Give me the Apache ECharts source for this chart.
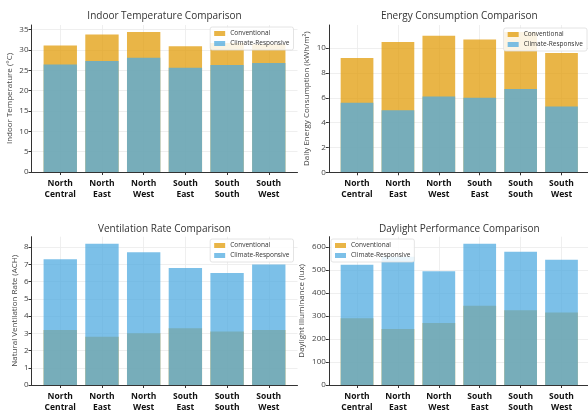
<!DOCTYPE html>
<html>
<head>
<meta charset="utf-8">
<script src="https://cdn.jsdelivr.net/npm/echarts@6/dist/echarts.min.js"></script>
<style>
  html, body { margin: 0; padding: 0; background: #fff; }
  #chart { width: 588px; height: 411px; }
</style>
</head>
<body>
<div id="chart"></div>
<script>
// Regions compared in every panel
const categories = ['North\nCentral', 'North\nEast', 'North\nWest', 'South\nEast', 'South\nSouth', 'South\nWest'];
const seriesNames = ['Conventional', 'Climate-Responsive'];

// Indoor temperature (°C)
const tempConventional = [31.1, 33.8, 34.4, 30.9, 31.7, 31.4];
const tempClimate = [26.4, 27.3, 28.1, 25.6, 26.3, 26.8];
const tempTicks = [0, 5, 10, 15, 20, 25, 30, 35];

// Daily energy consumption (kWh/m²)
const energyConventional = [9.2, 10.5, 11.0, 10.7, 11.3, 9.6];
const energyClimate = [5.6, 5.0, 6.1, 6.0, 6.7, 5.3];
const energyTicks = [0, 2, 4, 6, 8, 10];

// Natural ventilation rate (ACH)
const ventConventional = [3.2, 2.8, 3.0, 3.3, 3.1, 3.2];
const ventClimate = [7.3, 8.2, 7.7, 6.8, 6.5, 7.0];
const ventTicks = [0, 1, 2, 3, 4, 5, 6, 7, 8];

// Daylight illuminance (lux)
const dayConventional = [290, 243, 270, 345, 325, 315];
const dayClimate = [523, 557, 494, 614, 579, 545];
const dayTicks = [0, 100, 200, 300, 400, 500, 600];

const COLOR_CONV = 'rgba(225,156,9,0.75)';
const COLOR_CLIM = 'rgba(80,171,224,0.75)';
const FONT = '"Open Sans", "Liberation Sans", sans-serif';
const GRID_COLOR = '#ebebeb';

// Panel layout: frame = axes box, step = px between category centres
const panels = [
  { title: 'Indoor Temperature Comparison', yName: 'Indoor Temperature (°C)',
    conv: tempConventional, clim: tempClimate, ticks: tempTicks,
    left: 31.5, width: 266, top: 25, bottom: 172, step: 41.7, nameGap: 18,
    titleY: 16, legend: { right: 294.5, top: 27 } },
  { title: 'Energy Consumption Comparison', yName: 'Daily Energy Consumption (kWh/m²)',
    conv: energyConventional, clim: energyClimate, ticks: energyTicks,
    left: 328.8, width: 261, top: 25, bottom: 172.3, step: 40.9, nameGap: 18,
    titleY: 16, legend: { right: 1, top: 28 } },
  { title: 'Ventilation Rate Comparison', yName: 'Natural Ventilation Rate (ACH)',
    conv: ventConventional, clim: ventClimate, ticks: ventTicks,
    left: 31.5, width: 266, top: 236.7, bottom: 385, step: 41.7, nameGap: 13,
    titleY: 229, legend: { right: 294.5, top: 239 } },
  { title: 'Daylight Performance Comparison', yName: 'Daylight Illuminance (lux)',
    conv: dayConventional, clim: dayClimate, ticks: dayTicks,
    left: 328.8, width: 261, top: 236.7, bottom: 385, step: 40.9, nameGap: 23,
    titleY: 229, legend: { left: 331, top: 239 } }
];

const W = 588, H = 411;
const grid = [], xAxis = [], yAxis = [], series = [], legend = [], graphic = [];

panels.forEach((p, i) => {
  const ymax = Math.max(...p.conv, ...p.clim) * 1.05;
  const frameIdx = i * 2, barIdx = i * 2 + 1;
  // frame grid: spines, y labels and horizontal grid lines
  grid.push({ left: p.left, right: W - (p.left + p.width), top: p.top, bottom: H - p.bottom, outerBoundsMode: 'none' });
  // bar grid: category centres from first to last region
  const barLeft = p.left + 0.69 * p.step;
  grid.push({ left: barLeft, right: W - (barLeft + 5 * p.step), top: p.top, bottom: H - p.bottom, outerBoundsMode: 'none' });

  xAxis.push({
    gridIndex: frameIdx, type: 'value', min: 0, max: 1, z: 5,
    axisLine: { show: true, onZero: false, lineStyle: { color: '#333', width: 1 } },
    axisTick: { show: false }, axisLabel: { show: false }, splitLine: { show: false }
  });
  xAxis.push({
    gridIndex: barIdx, type: 'category', data: categories, boundaryGap: false,
    axisLine: { show: false },
    axisTick: { show: true, length: 3, lineStyle: { color: '#333' } },
    axisLabel: { interval: 0, fontFamily: FONT, fontWeight: 'bold', fontSize: 8.5, lineHeight: 11, color: '#111', margin: 6 },
    splitLine: { show: true, interval: 0, lineStyle: { color: GRID_COLOR, width: 0.8 } }
  });

  yAxis.push({
    gridIndex: frameIdx, type: 'value', min: 0, max: ymax,
    name: p.yName, nameLocation: 'middle', nameGap: p.nameGap,
    nameTextStyle: { fontFamily: FONT, fontSize: 8, color: '#444' },
    axisLine: { show: true, lineStyle: { color: '#333', width: 1 } },
    axisTick: { show: true, length: 3, customValues: p.ticks, lineStyle: { color: '#333' } },
    axisLabel: { customValues: p.ticks, fontFamily: FONT, fontSize: 8, color: '#444', margin: 3 },
    splitLine: { show: true, lineStyle: { color: GRID_COLOR, width: 0.8 } }
  });
  yAxis.push({
    gridIndex: barIdx, type: 'value', min: 0, max: ymax, show: false,
    splitLine: { show: false }
  });

  series.push({
    name: seriesNames[0], type: 'bar', xAxisIndex: barIdx, yAxisIndex: barIdx,
    data: p.conv, barWidth: '80%', barGap: '-100%', clip: false,
    itemStyle: { color: COLOR_CONV }, emphasis: { disabled: true }, z: 2
  });
  series.push({
    name: seriesNames[1], type: 'bar', xAxisIndex: barIdx, yAxisIndex: barIdx,
    data: p.clim, barWidth: '80%', barGap: '-100%', clip: false,
    itemStyle: { color: COLOR_CLIM }, emphasis: { disabled: true }, z: 3
  });

  legend.push(Object.assign({
    orient: 'vertical', data: seriesNames, icon: 'rect',
    itemWidth: 11, itemHeight: 5, itemGap: 3, padding: [3, 4],
    backgroundColor: 'rgba(255,255,255,0.85)', borderColor: '#ddd', borderWidth: 0.8, borderRadius: 2,
    textStyle: { fontFamily: FONT, fontSize: 6.5, color: '#333' }, selectedMode: false
  }, p.legend));

  graphic.push({
    type: 'text', x: p.left + p.width / 2, y: p.titleY,
    style: { text: p.title, fill: '#333', font: '10px ' + FONT, align: 'center', verticalAlign: 'middle' }
  });
});

const chart = echarts.init(document.getElementById('chart'), null, { renderer: 'canvas' });
chart.setOption({
  animation: false,
  backgroundColor: '#fff',
  grid, xAxis, yAxis, series, legend, graphic
});
</script>
</body>
</html>
